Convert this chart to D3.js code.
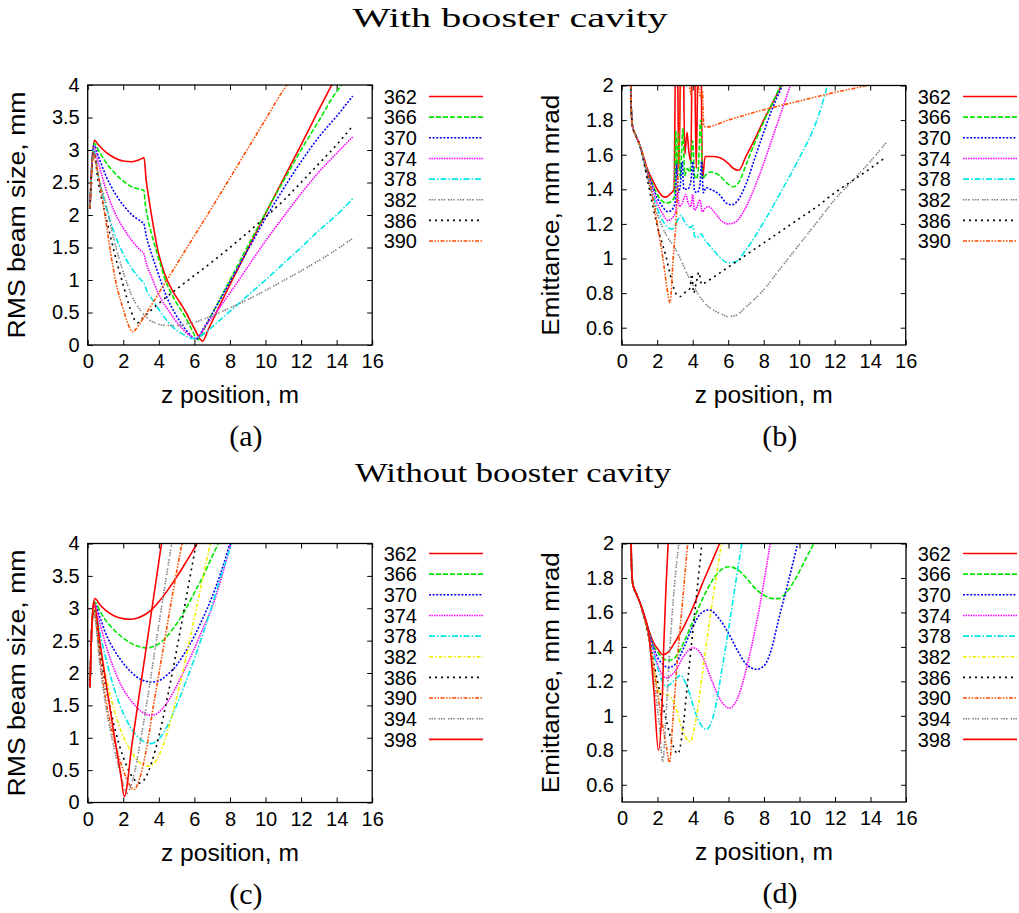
<!DOCTYPE html>
<html>
<head>
<meta charset="utf-8">
<script src="https://cdn.jsdelivr.net/npm/d3@7"></script>
<style>
  body { margin: 0; background: #fff; }
  svg text { fill: #000; }
</style>
</head>
<body>
<svg id="fig" width="1019" height="913"></svg>
<script>
// ---------------- data: [z position (m), value] ----------------
// (a) RMS beam size, with booster cavity
const a362 = [[0.13,2.1],[0.2,2.6],[0.28,2.95],[0.38,3.15],[0.6,3.08],[1.0,2.97],[1.5,2.88],[2.0,2.83],[2.5,2.82],[2.9,2.85],[3.17,2.88],[3.28,2.56],[3.47,2.2],[3.66,1.88],[3.94,1.46],[4.32,1.1],[4.78,0.83],[5.2,0.65],[5.53,0.5],[5.85,0.33],[6.1,0.2],[6.3,0.1],[6.45,0.06],[6.8,0.25],[7.5,0.65],[8.0,0.93],[9.0,1.47],[10.0,2.02],[11.0,2.55],[12.0,3.08],[13.0,3.62],[13.72,4.0],[14.0,4.15]];
const a366 = [[0.13,2.1],[0.2,2.6],[0.28,2.95],[0.37,3.1],[0.6,3.0],[1.0,2.82],[1.5,2.65],[2.0,2.52],[2.5,2.43],[3.0,2.39],[3.15,2.38],[3.25,2.15],[3.4,1.92],[3.56,1.74],[3.94,1.38],[4.41,0.97],[4.97,0.66],[5.53,0.41],[5.85,0.24],[6.05,0.13],[6.2,0.08],[6.5,0.22],[7.0,0.48],[8.0,1.0],[9.0,1.52],[10.0,2.03],[11.0,2.52],[12.0,3.0],[13.0,3.45],[14.0,3.9],[14.3,4.0]];
const a370 = [[0.13,2.1],[0.2,2.6],[0.28,2.95],[0.36,3.07],[0.6,2.9],[1.0,2.62],[1.5,2.35],[2.0,2.15],[2.5,2.0],[3.0,1.9],[3.15,1.87],[3.3,1.67],[3.56,1.43],[3.94,1.12],[4.41,0.76],[4.97,0.46],[5.53,0.23],[5.85,0.13],[6.1,0.09],[6.5,0.25],[7.0,0.48],[8.0,0.97],[9.0,1.46],[10.0,1.95],[11.0,2.4],[12.0,2.82],[13.0,3.2],[14.0,3.52],[14.9,3.83]];
const a374 = [[0.13,2.1],[0.2,2.6],[0.28,2.93],[0.35,3.04],[0.6,2.8],[1.0,2.42],[1.5,2.05],[2.0,1.8],[2.5,1.6],[3.0,1.45],[3.15,1.41],[3.3,1.25],[3.56,1.07],[4.03,0.76],[4.6,0.51],[5.16,0.3],[5.72,0.15],[6.0,0.1],[6.25,0.13],[6.6,0.28],[7.0,0.42],[8.0,0.8],[9.0,1.2],[10.0,1.6],[11.0,1.97],[12.0,2.33],[13.0,2.66],[14.0,2.95],[14.9,3.2]];
const a378 = [[0.13,2.1],[0.2,2.6],[0.28,2.9],[0.34,3.0],[0.6,2.6],[1.0,2.15],[1.5,1.72],[2.0,1.4],[2.5,1.17],[3.0,1.0],[3.15,0.96],[3.35,0.82],[3.66,0.69],[4.22,0.46],[4.78,0.28],[5.53,0.14],[5.9,0.1],[6.3,0.13],[7.0,0.28],[8.0,0.52],[9.0,0.76],[10.0,1.0],[11.0,1.25],[12.0,1.5],[13.0,1.76],[14.0,2.0],[14.9,2.25]];
const a382 = [[0.13,2.1],[0.2,2.55],[0.28,2.88],[0.34,2.98],[0.6,2.6],[1.0,2.2],[1.5,1.6],[2.0,1.12],[2.5,0.75],[3.0,0.52],[3.5,0.38],[4.0,0.32],[4.5,0.3],[5.0,0.3],[5.5,0.32],[6.0,0.35],[7.0,0.45],[8.0,0.57],[9.0,0.7],[10.0,0.84],[11.0,0.99],[12.0,1.14],[13.0,1.3],[14.0,1.47],[14.9,1.64]];
const a386 = [[0.13,2.1],[0.2,2.55],[0.27,2.85],[0.33,2.97],[0.6,2.5],[1.0,2.0],[1.5,1.42],[2.0,0.92],[2.4,0.55],[2.7,0.36],[2.8,0.34],[3.0,0.39],[3.5,0.52],[4.0,0.64],[5.0,0.86],[6.0,1.07],[7.0,1.28],[8.0,1.5],[9.0,1.73],[10.0,1.97],[11.0,2.22],[12.0,2.5],[13.0,2.79],[14.0,3.08],[14.9,3.37]];
const a390 = [[0.13,2.1],[0.2,2.55],[0.27,2.85],[0.32,2.95],[0.5,2.75],[0.7,2.45],[1.0,1.95],[1.3,1.4],[1.6,0.95],[2.0,0.55],[2.3,0.3],[2.55,0.2],[2.7,0.24],[3.0,0.36],[4.0,0.8],[5.0,1.24],[6.0,1.68],[7.0,2.12],[8.0,2.57],[9.0,3.02],[10.0,3.47],[11.0,3.92],[11.2,4.0]];

// (b) emittance, with booster cavity
const b362 = [[0.47,2.4],[0.53,1.9],[0.6,1.77],[0.8,1.71],[1.0,1.66],[1.2,1.6],[1.4,1.53],[1.7,1.46],[2.0,1.4],[2.3,1.36],[2.5,1.355],[2.75,1.375],[2.95,1.4],[3.05,2.3],[3.12,2.3],[3.22,1.52],[3.35,2.3],[3.45,2.3],[3.55,1.6],[3.68,1.73],[3.78,1.62],[3.9,1.56],[3.98,2.3],[4.08,2.3],[4.2,1.52],[4.32,2.3],[4.45,2.3],[4.55,1.46],[4.7,1.59],[5.2,1.59],[5.6,1.58],[6.0,1.55],[6.3,1.52],[6.6,1.51],[7.0,1.59],[7.5,1.69],[8.0,1.8],[8.5,1.9],[9.0,2.0],[9.3,2.06]];
const b366 = [[0.47,2.4],[0.53,1.9],[0.6,1.77],[0.8,1.71],[1.0,1.66],[1.2,1.59],[1.4,1.52],[1.7,1.44],[2.0,1.37],[2.3,1.33],[2.5,1.32],[2.8,1.33],[2.98,1.36],[3.05,1.74],[3.12,1.5],[3.2,1.72],[3.3,1.47],[3.45,1.75],[3.55,1.48],[3.7,1.52],[3.85,1.5],[4.0,1.68],[4.1,1.48],[4.2,1.46],[4.3,1.5],[4.45,1.8],[4.55,1.46],[4.7,1.48],[5.0,1.5],[5.5,1.48],[6.0,1.43],[6.3,1.415],[6.6,1.44],[7.0,1.54],[7.5,1.67],[8.0,1.79],[8.5,1.9],[9.0,2.01]];
const b370 = [[0.47,2.4],[0.53,1.9],[0.6,1.77],[0.8,1.71],[1.0,1.66],[1.2,1.59],[1.4,1.52],[1.7,1.43],[2.0,1.35],[2.3,1.3],[2.6,1.27],[2.9,1.29],[3.02,1.33],[3.1,1.55],[3.18,1.38],[3.3,1.42],[3.4,1.56],[3.5,1.4],[3.7,1.4],[3.9,1.45],[4.0,1.56],[4.1,1.39],[4.25,1.38],[4.4,1.42],[4.5,1.56],[4.6,1.38],[4.75,1.41],[5.0,1.4],[5.5,1.37],[5.9,1.32],[6.2,1.31],[6.5,1.33],[7.0,1.43],[7.5,1.58],[8.0,1.73],[8.5,1.87],[9.1,2.01]];
const b374 = [[0.47,2.4],[0.53,1.9],[0.6,1.77],[0.8,1.71],[1.0,1.66],[1.2,1.59],[1.4,1.51],[1.7,1.41],[2.0,1.32],[2.3,1.26],[2.6,1.22],[2.9,1.24],[3.05,1.28],[3.15,1.38],[3.25,1.3],[3.45,1.33],[3.6,1.37],[3.75,1.32],[3.9,1.3],[4.0,1.37],[4.1,1.28],[4.25,1.3],[4.4,1.34],[4.55,1.27],[4.7,1.29],[4.9,1.3],[5.2,1.27],[5.6,1.22],[6.0,1.2],[6.4,1.21],[6.8,1.26],[7.2,1.34],[7.6,1.44],[8.0,1.55],[8.5,1.7],[9.0,1.85],[9.5,2.0]];
const b378 = [[0.47,2.4],[0.53,1.9],[0.6,1.77],[0.8,1.71],[1.0,1.66],[1.2,1.59],[1.4,1.5],[1.7,1.39],[2.0,1.29],[2.3,1.22],[2.6,1.18],[2.85,1.17],[3.05,1.2],[3.2,1.23],[3.35,1.25],[3.5,1.22],[3.7,1.19],[3.9,1.18],[4.0,1.19],[4.1,1.13],[4.25,1.12],[4.4,1.14],[4.5,1.14],[4.6,1.12],[5.0,1.07],[5.5,1.01],[6.0,0.975],[6.4,0.98],[7.0,1.05],[8.0,1.21],[9.0,1.39],[10.0,1.58],[11.0,1.8],[11.6,2.0]];
const b382 = [[0.47,2.4],[0.53,1.9],[0.6,1.77],[0.8,1.71],[1.0,1.66],[1.2,1.58],[1.4,1.49],[1.7,1.37],[2.0,1.26],[2.3,1.18],[2.6,1.12],[3.0,1.06],[3.3,1.0],[3.6,0.93],[4.0,0.85],[4.4,0.78],[4.8,0.73],[5.2,0.7],[5.6,0.68],[6.0,0.665],[6.4,0.67],[7.0,0.72],[8.0,0.82],[9.0,0.95],[10.0,1.08],[11.0,1.21],[12.0,1.34],[13.0,1.45],[14.0,1.56],[14.9,1.67]];
const b386 = [[0.47,2.4],[0.53,1.9],[0.6,1.77],[0.8,1.71],[1.0,1.66],[1.2,1.58],[1.4,1.48],[1.7,1.33],[2.0,1.19],[2.3,1.08],[2.5,1.01],[2.7,0.92],[2.9,0.84],[3.1,0.79],[3.3,0.78],[3.5,0.8],[3.7,0.81],[3.85,0.83],[3.95,0.91],[4.05,0.8],[4.2,0.86],[4.35,0.92],[4.5,0.85],[4.7,0.86],[5.0,0.88],[6.0,0.95],[7.0,1.02],[8.0,1.09],[9.0,1.16],[10.0,1.23],[11.0,1.3],[12.0,1.38],[13.0,1.45],[14.0,1.52],[14.8,1.58]];
const b390 = [[0.47,2.4],[0.53,1.9],[0.6,1.77],[0.8,1.71],[1.0,1.66],[1.2,1.6],[1.5,1.48],[2.0,1.2],[2.35,0.98],[2.55,0.83],[2.72,0.745],[2.9,1.0],[3.1,1.29],[3.25,1.73],[3.35,2.05],[3.6,2.2],[3.9,1.95],[4.0,2.1],[4.3,2.0],[4.45,1.93],[4.55,1.97],[4.62,1.77],[4.75,1.76],[6.0,1.8],[8.0,1.86],[10.0,1.91],[12.0,1.96],[13.8,2.0],[14.5,2.02]];

// (c) RMS beam size, without booster cavity
const c362 = [[0.13,1.78],[0.2,2.5],[0.3,3.0],[0.4,3.15],[0.7,3.05],[1.0,2.97],[1.5,2.88],[2.0,2.84],[2.4,2.83],[2.8,2.85],[3.2,2.9],[3.6,2.98],[4.0,3.1],[4.5,3.28],[5.0,3.48],[5.5,3.7],[6.0,3.93],[6.15,4.0]];
const c366 = [[0.13,1.78],[0.2,2.5],[0.3,2.98],[0.38,3.1],[0.7,2.95],[1.0,2.82],[1.5,2.66],[2.0,2.54],[2.5,2.45],[3.0,2.4],[3.35,2.385],[3.7,2.41],[4.0,2.45],[4.5,2.58],[5.0,2.76],[5.5,2.98],[6.0,3.24],[6.5,3.5],[7.0,3.8],[7.35,4.0]];
const c370 = [[0.13,1.78],[0.2,2.5],[0.3,2.95],[0.37,3.07],[0.7,2.85],[1.0,2.62],[1.5,2.35],[2.0,2.15],[2.5,2.0],[3.0,1.9],[3.6,1.86],[4.0,1.88],[4.5,1.98],[5.0,2.12],[5.5,2.33],[6.0,2.57],[6.5,2.86],[7.0,3.18],[7.5,3.56],[8.0,4.0]];
const c374 = [[0.13,1.78],[0.2,2.5],[0.3,2.93],[0.36,3.04],[0.7,2.75],[1.0,2.45],[1.5,2.05],[2.0,1.75],[2.5,1.55],[3.0,1.41],[3.5,1.35],[3.8,1.36],[4.2,1.45],[4.6,1.6],[5.0,1.8],[5.5,2.08],[6.0,2.38],[6.5,2.7],[7.0,3.02],[7.5,3.45],[8.05,4.0]];
const c378 = [[0.13,1.78],[0.2,2.5],[0.3,2.9],[0.35,3.0],[0.7,2.6],[1.0,2.25],[1.5,1.75],[2.0,1.38],[2.5,1.12],[3.0,0.97],[3.5,0.91],[3.8,0.93],[4.2,1.05],[4.6,1.25],[5.0,1.5],[5.5,1.85],[6.0,2.22],[6.5,2.62],[7.0,3.05],[7.5,3.5],[8.1,4.0]];
const c382 = [[0.13,1.78],[0.2,2.5],[0.3,2.9],[0.35,2.98],[0.7,2.4],[1.0,1.97],[1.5,1.42],[2.0,1.02],[2.5,0.76],[3.0,0.6],[3.4,0.56],[3.8,0.63],[4.2,0.85],[4.6,1.2],[5.0,1.62],[5.5,2.2],[6.0,2.85],[6.5,3.5],[6.9,4.0]];
const c386 = [[0.13,1.78],[0.2,2.5],[0.28,2.88],[0.34,2.97],[0.7,2.3],[1.0,1.82],[1.5,1.17],[2.0,0.7],[2.5,0.4],[2.9,0.3],[3.2,0.36],[3.6,0.62],[4.0,1.02],[4.5,1.65],[5.0,2.35],[5.5,3.1],[6.1,4.0]];
const c390 = [[0.13,1.78],[0.2,2.5],[0.28,2.88],[0.34,2.96],[0.7,2.2],[1.0,1.62],[1.5,0.95],[2.0,0.5],[2.3,0.3],[2.6,0.2],[2.9,0.35],[3.3,0.82],[3.7,1.5],[4.2,2.3],[4.7,3.1],[5.3,4.0]];
const c394 = [[0.13,1.78],[0.2,2.5],[0.28,2.88],[0.33,2.95],[0.7,2.1],[1.0,1.52],[1.5,0.82],[1.9,0.38],[2.2,0.14],[2.5,0.32],[3.0,1.0],[3.5,1.85],[4.0,2.75],[4.72,4.0]];
const c398 = [[0.13,1.78],[0.2,2.5],[0.28,2.95],[0.34,3.1],[0.7,2.45],[1.0,1.9],[1.5,1.02],[1.85,0.45],[2.06,0.09],[2.5,0.92],[3.0,1.85],[3.5,2.78],[4.15,4.0]];

// (d) emittance, without booster cavity
const d362 = [[0.47,2.4],[0.53,1.9],[0.6,1.77],[0.8,1.71],[1.0,1.66],[1.2,1.6],[1.5,1.5],[1.8,1.42],[2.0,1.39],[2.3,1.355],[2.6,1.37],[3.0,1.43],[3.5,1.52],[4.0,1.63],[4.5,1.76],[5.0,1.88],[5.5,2.0],[5.7,2.05]];
const d366 = [[0.47,2.4],[0.53,1.9],[0.6,1.77],[0.8,1.71],[1.0,1.66],[1.2,1.6],[1.5,1.49],[1.8,1.4],[2.0,1.37],[2.3,1.335],[2.6,1.32],[3.0,1.34],[3.5,1.43],[4.0,1.55],[4.5,1.67],[5.0,1.77],[5.5,1.84],[6.0,1.865],[6.5,1.85],[7.0,1.8],[7.5,1.74],[8.0,1.7],[8.5,1.68],[8.8,1.68],[9.3,1.72],[9.8,1.8],[10.3,1.9],[10.8,2.0]];
const d370 = [[0.47,2.4],[0.53,1.9],[0.6,1.77],[0.8,1.71],[1.0,1.66],[1.2,1.6],[1.5,1.49],[1.8,1.39],[2.0,1.34],[2.3,1.3],[2.6,1.28],[3.0,1.3],[3.5,1.4],[4.0,1.52],[4.5,1.6],[4.9,1.615],[5.5,1.56],[6.0,1.48],[6.5,1.38],[7.0,1.3],[7.6,1.27],[8.0,1.29],[8.4,1.38],[8.8,1.55],[9.3,1.75],[9.9,2.0]];
const d374 = [[0.47,2.4],[0.53,1.9],[0.6,1.77],[0.8,1.71],[1.0,1.66],[1.2,1.59],[1.5,1.48],[1.8,1.37],[2.0,1.3],[2.5,1.22],[3.0,1.26],[3.5,1.35],[4.0,1.395],[4.5,1.35],[5.0,1.22],[5.5,1.1],[6.05,1.045],[6.5,1.1],[7.0,1.27],[7.5,1.5],[7.8,1.66],[8.1,1.84],[8.35,2.0]];
const d378 = [[0.47,2.4],[0.53,1.9],[0.6,1.77],[0.8,1.71],[1.0,1.66],[1.2,1.59],[1.5,1.47],[1.8,1.35],[2.0,1.28],[2.5,1.17],[2.9,1.2],[3.3,1.235],[3.7,1.16],[4.2,1.0],[4.75,0.92],[5.2,1.02],[5.6,1.25],[6.0,1.5],[6.4,1.77],[6.75,2.0]];
const d382 = [[0.47,2.4],[0.53,1.9],[0.6,1.77],[0.8,1.71],[1.0,1.66],[1.2,1.59],[1.5,1.46],[1.8,1.26],[2.1,1.14],[2.6,1.12],[3.0,1.06],[3.4,0.92],[3.85,0.85],[4.2,1.0],[4.6,1.3],[5.0,1.6],[5.3,1.8],[5.6,2.0]];
const d386 = [[0.47,2.4],[0.53,1.9],[0.6,1.77],[0.8,1.71],[1.0,1.66],[1.2,1.59],[1.5,1.46],[1.8,1.3],[2.0,1.2],[2.3,1.06],[2.6,0.93],[2.9,0.82],[3.15,0.78],[3.4,0.9],[3.7,1.2],[4.0,1.5],[4.3,1.8],[4.5,2.0]];
const d390 = [[0.47,2.4],[0.53,1.9],[0.6,1.77],[0.8,1.71],[1.0,1.66],[1.2,1.59],[1.5,1.47],[1.9,1.2],[2.2,1.0],[2.5,0.82],[2.68,0.73],[2.85,0.95],[3.1,1.3],[3.4,1.65],[3.7,2.0]];
const d394 = [[0.47,2.4],[0.53,1.9],[0.6,1.77],[0.8,1.71],[1.0,1.66],[1.2,1.59],[1.5,1.47],[1.8,1.2],[2.1,0.95],[2.3,0.735],[2.45,0.95],[2.7,1.4],[2.95,1.75],[3.2,2.0]];
const d398 = [[0.47,2.4],[0.53,1.9],[0.6,1.77],[0.8,1.71],[1.0,1.66],[1.2,1.6],[1.5,1.48],[1.8,1.14],[2.05,0.8],[2.27,1.1],[2.35,1.4],[2.48,1.75],[2.6,2.0]];

// legend labels and tick values
const labelsWith = ["362","366","370","374","378","382","386","390"];
const labelsWithout = ["362","366","370","374","378","382","386","390","394","398"];
const xTicks = [0,2,4,6,8,10,12,14,16];
const beamTicks = [0,0.5,1,1.5,2,2.5,3,3.5,4];
const emitTicks = [0.6,0.8,1,1.2,1.4,1.6,1.8,2];

// ---------------- line styles (gnuplot-like colour / dash types) ----------------
const ST = {
  red:     {c: "#ff0000", d: null},
  green:   {c: "#00e600", d: "5,2"},
  blue:    {c: "#0000ff", d: "2,1.6"},
  magenta: {c: "#ff00ff", d: "1.5,1"},
  cyan:    {c: "#00e8e8", d: "6,2,1.5,2"},
  yellow:  {c: "#f0f000", d: "4,2,1.5,2"},
  black:   {c: "#000000", d: "2,4"},
  orange:  {c: "#ff4d00", d: "4,1.5,1.5,1.5,1.5,1.5"},
  gray:    {c: "#808080", d: "1.5,1,1.5,1,1.5,3"}
};
const stylesWith = [ST.red, ST.green, ST.blue, ST.magenta, ST.cyan, ST.gray, ST.black, ST.orange];
const stylesWithout = [ST.red, ST.green, ST.blue, ST.magenta, ST.cyan, ST.yellow, ST.black, ST.orange, ST.gray, ST.red];

const panels = [
  {id: "a", series: [a362,a366,a370,a374,a378,a382,a386,a390], labels: labelsWith, styles: stylesWith,
   box: {x: 87.7, y: 85, w: 284.5, h: 260}, yDom: [0,4], yTicks: beamTicks, ylab: "RMS beam size, mm", ylen: 247,
   legX: 417, legY: 96.5, tag: "(a)"},
  {id: "b", series: [b362,b366,b370,b374,b378,b382,b386,b390], labels: labelsWith, styles: stylesWith,
   box: {x: 621.7, y: 85.5, w: 284, h: 259.5}, yDom: [0.5,2], yTicks: emitTicks, ylab: "Emittance, mm mrad", ylen: 241,
   legX: 951, legY: 96.5, tag: "(b)"},
  {id: "c", series: [c362,c366,c370,c374,c378,c382,c386,c390,c394,c398], labels: labelsWithout, styles: stylesWithout,
   box: {x: 87.7, y: 543.5, w: 284.5, h: 259}, yDom: [0,4], yTicks: beamTicks, ylab: "RMS beam size, mm", ylen: 247,
   legX: 417, legY: 553.5, tag: "(c)"},
  {id: "d", series: [d362,d366,d370,d374,d378,d382,d386,d390,d394,d398], labels: labelsWithout, styles: stylesWithout,
   box: {x: 622, y: 543.5, w: 284, h: 258.5}, yDom: [0.5,2], yTicks: emitTicks, ylab: "Emittance, mm mrad", ylen: 241,
   legX: 951, legY: 553.5, tag: "(d)"}
];

const svg = d3.select("#fig");
const SANS = "'Liberation Sans', Arial, Helvetica, sans-serif";
const SERIF = "'Liberation Serif', 'DejaVu Serif', serif";
const fmt = v => String(+v.toFixed(1));

panels.forEach(p => {
  const b = p.box;
  const x = d3.scaleLinear().domain([0,16]).range([b.x, b.x + b.w]);
  const y = d3.scaleLinear().domain(p.yDom).range([b.y + b.h, b.y]);
  const g = svg.append("g").attr("class", "panel-" + p.id);

  g.append("clipPath").attr("id", "clip-" + p.id)
    .append("rect").attr("x", b.x).attr("y", b.y).attr("width", b.w).attr("height", b.h);

  // axes: ticks point inwards and are mirrored on the opposite borders
  const ax = (gen, tr) => g.append("g").attr("transform", tr).call(gen)
      .call(s => s.select(".domain").remove())
      .call(s => s.selectAll(".tick line").attr("stroke", "#000").attr("stroke-width", 1));
  const bottom = ax(d3.axisBottom(x).tickValues(xTicks).tickSize(-5).tickPadding(9).tickFormat(fmt), `translate(0,${b.y + b.h})`);
  const left = ax(d3.axisLeft(y).tickValues(p.yTicks).tickSize(-5).tickPadding(8).tickFormat(fmt), `translate(${b.x},0)`);
  ax(d3.axisTop(x).tickValues(xTicks).tickSize(-5).tickFormat(""), `translate(0,${b.y})`);
  ax(d3.axisRight(y).tickValues(p.yTicks).tickSize(-5).tickFormat(""), `translate(${b.x + b.w},0)`);
  [bottom, left].forEach(s => s.selectAll("text").attr("font-family", SANS).attr("font-size", 20).attr("fill", "#000"));

  // curves
  const line = d3.line().x(d => x(d[0])).y(d => y(d[1])).curve(d3.curveMonotoneX);
  const curves = g.append("g").attr("clip-path", `url(#clip-${p.id})`);
  p.series.forEach((s, i) => {
    const st = p.styles[i];
    curves.append("path").datum(s).attr("d", line)
      .attr("fill", "none").attr("stroke", st.c).attr("stroke-width", 1.6)
      .attr("stroke-dasharray", st.d).attr("stroke-linejoin", "round");
  });

  // frame
  g.append("rect").attr("x", b.x).attr("y", b.y).attr("width", b.w).attr("height", b.h)
    .attr("fill", "none").attr("stroke", "#000").attr("stroke-width", 1.3);

  // legend
  p.labels.forEach((lab, i) => {
    const yy = p.legY + i * 20.65;
    const st = p.styles[i];
    g.append("text").attr("x", p.legX).attr("y", yy).attr("dy", "0.36em")
      .attr("text-anchor", "end").attr("font-family", SANS).attr("font-size", 20).text(lab);
    g.append("line").attr("x1", p.legX + 12).attr("x2", p.legX + 66).attr("y1", yy).attr("y2", yy)
      .attr("stroke", st.c).attr("stroke-width", 1.6).attr("stroke-dasharray", st.d);
  });

  // axis titles and panel tag
  g.append("text").attr("x", b.x + b.w / 2).attr("y", b.y + b.h + 58)
    .attr("text-anchor", "middle").attr("font-family", SANS).attr("font-size", 23)
    .attr("textLength", 138).attr("lengthAdjust", "spacingAndGlyphs").text("z position, m");
  g.append("text").attr("transform", `translate(${b.x - 63},${b.y + b.h / 2}) rotate(-90)`)
    .attr("text-anchor", "middle").attr("font-family", SANS).attr("font-size", 23)
    .attr("textLength", p.ylen).attr("lengthAdjust", "spacingAndGlyphs").text(p.ylab);
  g.append("text").attr("x", b.x + b.w / 2 + 16).attr("y", b.y + b.h + 101)
    .attr("text-anchor", "middle").attr("font-family", SERIF).attr("font-size", 30).text(p.tag);
});

svg.append("text").attr("x", 510).attr("y", 27).attr("text-anchor", "middle")
  .attr("font-family", SERIF).attr("font-size", 28)
  .attr("textLength", 315).attr("lengthAdjust", "spacingAndGlyphs").text("With booster cavity");
svg.append("text").attr("x", 513).attr("y", 482).attr("text-anchor", "middle")
  .attr("font-family", SERIF).attr("font-size", 28)
  .attr("textLength", 316).attr("lengthAdjust", "spacingAndGlyphs").text("Without booster cavity");
</script>
</body>
</html>
